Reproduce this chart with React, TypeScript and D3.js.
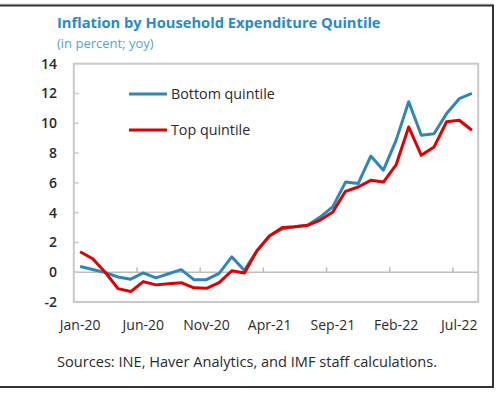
import React from "react";
import * as d3 from "d3";

const months: string[] = [
  "Jan-20","Feb-20","Mar-20","Apr-20","May-20","Jun-20","Jul-20","Aug-20","Sep-20","Oct-20","Nov-20","Dec-20",
  "Jan-21","Feb-21","Mar-21","Apr-21","May-21","Jun-21","Jul-21","Aug-21","Sep-21","Oct-21","Nov-21","Dec-21",
  "Jan-22","Feb-22","Mar-22","Apr-22","May-22","Jun-22","Jul-22","Aug-22",
];
const bottomQuintile: number[] = [
  0.38, 0.18, -0.03, -0.32, -0.47, -0.05, -0.38, -0.1, 0.17, -0.5,
  -0.5, -0.08, 1.03, 0.12, 1.45, 2.45, 2.9, 3.05, 3.15, 3.7,
  4.4, 6.05, 5.95, 7.8, 6.85, 8.85, 11.45, 9.2, 9.3, 10.65,
  11.65, 12.0,
];
const topQuintile: number[] = [
  1.37, 0.9, -0.02, -1.1, -1.3, -0.63, -0.85, -0.78, -0.7, -1.05,
  -1.08, -0.7, 0.1, -0.05, 1.45, 2.45, 3.0, 3.05, 3.15, 3.5,
  4.05, 5.43, 5.72, 6.17, 6.05, 7.2, 9.75, 7.85, 8.4, 10.1,
  10.2, 9.53,
];
const yTicks: number[] = [-2, 0, 2, 4, 6, 8, 10, 12, 14];
const xLabelEvery = 5;

const FONT = "'Open Sans', 'Noto Sans', sans-serif";

export default function App() {
  const W = 499, H = 395;
  const left = 73.8, right = 478.2, top = 63.7, bottom = 302;
  const x = d3.scaleBand<string>().domain(months).range([left, right]).padding(0);
  const cx = (m: string) => (x(m) as number) + x.bandwidth() / 2;
  const y = d3.scaleLinear().domain([-2, 14]).range([bottom, top]);

  const line = d3.line<number>().x((_, i) => cx(months[i])).y((d) => y(d));

  const tickBoundaries = months.map((m, i) => ({ m, i })).filter((d) => d.i > 0 && d.i % xLabelEvery === 0);
  const labelMonths = months.filter((_, i) => i % xLabelEvery === 0);

  return (
    <svg width={W} height={H} style={{ position: "absolute", left: 0, top: 0, background: "#fff" }} fontFamily={FONT}>
      <rect x={0} y={0} width={W} height={H} fill="#fff" />
      {/* outer frame */}
      <line x1={0} y1={4} x2={493} y2={4} stroke="#d8d8d8" strokeWidth={1} />
      <line x1={0} y1={5.5} x2={493} y2={5.5} stroke="#333" strokeWidth={2} />
      <line x1={493} y1={4.5} x2={493} y2={387.5} stroke="#333" strokeWidth={2} />
      <line x1={0} y1={387} x2={494} y2={387} stroke="#333" strokeWidth={2} />

      <text x={57} y={28} fontSize={14.7} fontWeight={700} fill="#2a8ac4">
        Inflation by Household Expenditure Quintile
      </text>
      <text x={57} y={48} fontSize={13} fill="#55a3d4">
        (in percent; yoy)
      </text>

      {/* plot frame */}
      <rect x={left} y={top} width={right - left} height={bottom - top} fill="none" stroke="#c9c9c9" strokeWidth={2} />
      {/* zero line */}
      <line x1={left} x2={right} y1={y(0)} y2={y(0)} stroke="#bdbdbd" strokeWidth={1.5} />
      {tickBoundaries.map((d) => (
        <line key={d.m} x1={x(d.m) as number} x2={x(d.m) as number} y1={y(0)} y2={y(0) - 5} stroke="#bdbdbd" strokeWidth={1.5} />
      ))}
      {yTicks.map((t) => (
        <g key={t}>
          {t > -2 && t < 14 && <line x1={left} x2={left + 5} y1={y(t)} y2={y(t)} stroke="#c9c9c9" strokeWidth={1.5} />}
          <text x={57} y={y(t)} dy="0.35em" textAnchor="end" fontSize={14} fontWeight={600} fill="#2a2a2a">
            {t}
          </text>
        </g>
      ))}
      {labelMonths.map((m) => (
        <text key={m} x={cx(m)} y={330} textAnchor="middle" fontSize={14} fill="#2a2a2a">
          {m}
        </text>
      ))}

      <path d={line(bottomQuintile) as string} fill="none" stroke="#2f87b3" strokeWidth={3} strokeLinejoin="round" />
      <path d={line(topQuintile) as string} fill="none" stroke="#e00000" strokeWidth={3} strokeLinejoin="round" />

      {/* legend */}
      <line x1={129} x2={167} y1={94} y2={94} stroke="#2f87b3" strokeWidth={3} />
      <text x={171} y={94} dy="0.35em" fontSize={14.3} fill="#2a2a2a">Bottom quintile</text>
      <line x1={129} x2={167} y1={130} y2={130} stroke="#e00000" strokeWidth={3} />
      <text x={171} y={130} dy="0.35em" fontSize={14.3} fill="#2a2a2a">Top quintile</text>

      <text x={57} y={367} fontSize={14.6} fill="#2a2a2a">
        Sources: INE, Haver Analytics, and IMF staff calculations.
      </text>
    </svg>
  );
}
